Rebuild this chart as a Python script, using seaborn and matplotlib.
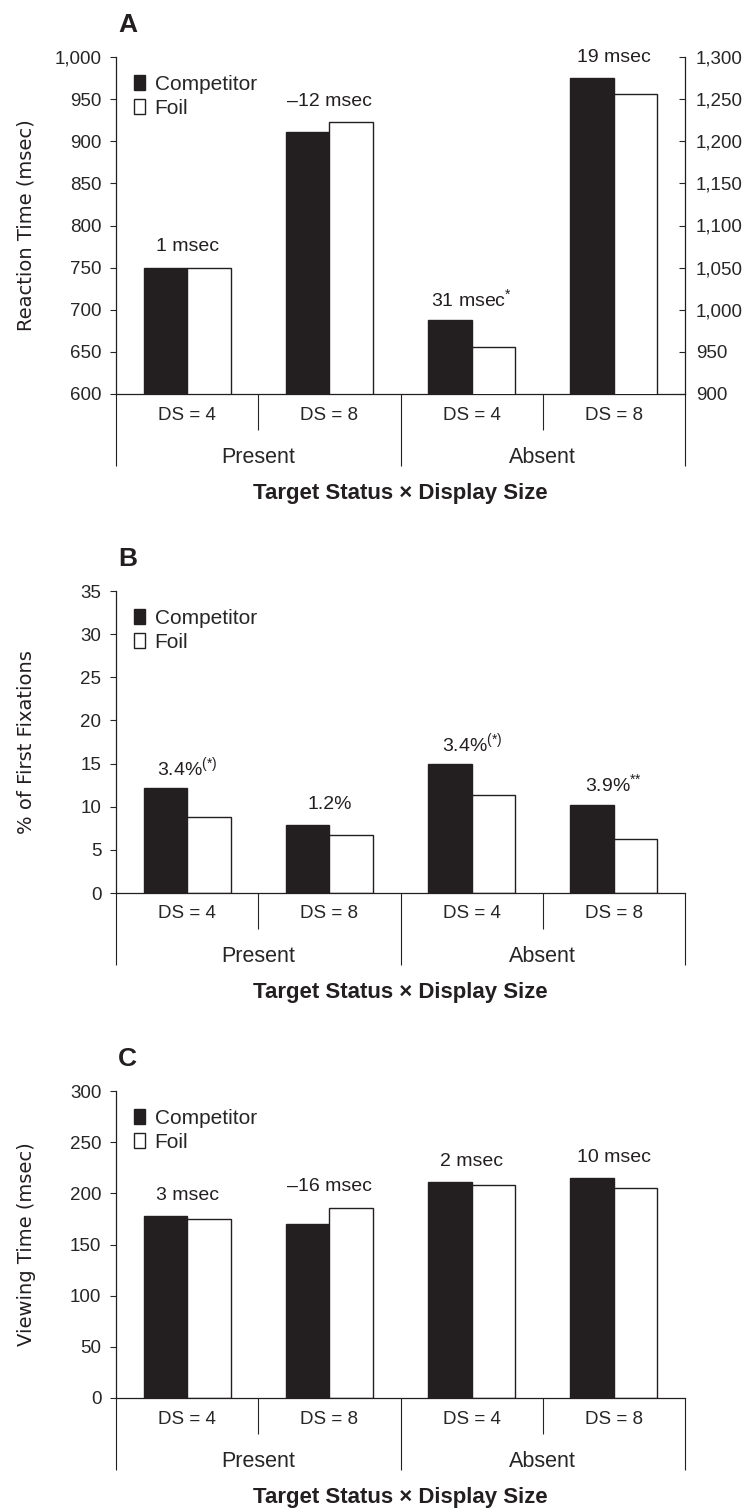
import pandas as pd
import seaborn as sns
import matplotlib.pyplot as plt
from matplotlib.ticker import FuncFormatter, MultipleLocator

# conditions along the x axis
status = ["Present", "Present", "Absent", "Absent"]
display_size = ["DS = 4", "DS = 8", "DS = 4", "DS = 8"]
groups = ["Present", "Absent"]
series = ["Competitor", "Foil"]

# A: reaction time (Present on left axis, Absent on right axis)
rt_competitor = [750, 911, 988, 1275]
rt_foil = [749, 923, 956, 1256]
rt_diff = ["1 msec", "\u201312 msec", "31 msec$^{*}$", "19 msec"]

# B: % of first fixations
ff_competitor = [12.2, 7.9, 14.9, 10.2]
ff_foil = [8.8, 6.7, 11.4, 6.3]
ff_diff = ["3.4%$^{(*)}$", "1.2%", "3.4%$^{(*)}$", "3.9%$^{{*}{*}}$"]

# C: viewing time
vt_competitor = [178, 170, 211, 215]
vt_foil = [175, 186, 208, 205]
vt_diff = ["3 msec", "\u201316 msec", "2 msec", "10 msec"]

INK = "#231f20"
W, H = 749, 1510
NARROW = ["Liberation Sans", "DejaVu Sans"]


def make_df(comp, foil):
    conds = [s + " " + d for s, d in zip(status, display_size)]
    rows = []
    for c, st, a, b in zip(conds, status, comp, foil):
        rows.append({"cond": c, "status": st, "series": "Competitor", "value": a})
        rows.append({"cond": c, "status": st, "series": "Foil", "value": b})
    return pd.DataFrame(rows), conds


def bars(df, conds, ax):
    sns.barplot(data=df, x="cond", y="value", hue="series", order=conds,
                hue_order=series, palette={"Competitor": INK, "Foil": "white"},
                edgecolor=INK, linewidth=1.0, width=0.61, saturation=1,
                errorbar=None, ax=ax)


def px_axes(top, bottom):
    return [116 / W, (H - bottom) / H, (685 - 116) / W, (bottom - top) / H]


def style_axes(ax, top, bottom, letter, ylabel):
    n = len(display_size)
    ax.set_xlim(-0.5, n - 0.5)
    ax.set_xticks(range(n), display_size)
    ax.set_xticks([0.5, 2.5], minor=True)
    ax.tick_params(axis="x", which="major", length=0, pad=9, labelsize=13.5)
    ax.tick_params(axis="x", which="minor", length=26, width=0.8, direction="out")
    for lab in ax.get_xticklabels():
        lab.set_family(NARROW)
    ax.tick_params(axis="y", length=4.5, width=0.8, direction="out", pad=6, labelsize=13.5)
    for lab in ax.get_yticklabels():
        lab.set_family(NARROW)
    for s in ["top", "right"]:
        ax.spines[s].set_visible(False)
    for s in ["left", "bottom"]:
        ax.spines[s].set_linewidth(0.9)
        ax.spines[s].set_color(INK)

    # group labels + long separators
    sec = ax.secondary_xaxis("bottom")
    sec.set_xticks([-0.5, 1.5, 3.5])
    sec.set_xticklabels(["", "", ""])
    sec.set_xticks([0.5, 2.5], groups, minor=True)
    sec.tick_params(which="major", length=52, width=0.8, direction="out", color=INK)
    sec.tick_params(which="minor", length=0, pad=38, labelsize=15.5)
    for lab in sec.get_xticklabels(minor=True):
        lab.set_family(NARROW)
    sec.spines["bottom"].set_visible(False)

    ax.set_ylabel(ylabel, fontsize=14, family="DejaVu Sans", color=INK)
    ax.yaxis.set_label_coords(-0.141, 0.5)
    ax.set_xlabel("Target Status \u00d7 Display Size", fontsize=16,
                  fontweight="bold", family=NARROW, color=INK)
    ax.xaxis.set_label_coords(0.5, -89 / (bottom - top))

    fig.text(118 / W, 1 - (top - 32) / H, letter, fontsize=19, fontweight="bold",
             family=NARROW, va="center", ha="left", color=INK)


def legend(src, dst):
    handles, labels = src.get_legend_handles_labels()
    if src.get_legend() is not None:
        src.get_legend().remove()
    dst.legend(handles, labels, loc="upper left", frameon=False,
               handlelength=0.55, handleheight=0.75, handletextpad=0.45,
               labelspacing=0.25, borderaxespad=0.45, prop={"family": NARROW, "size": 15})


def annotate(ax, i, y, text):
    ax.annotate(text, (i, y), xytext=(0, 15), textcoords="offset points",
                ha="center", va="center", fontsize=14, family=NARROW, color=INK)


sns.set_theme(style="ticks")
plt.rcParams["font.family"] = NARROW
plt.rcParams["mathtext.default"] = "regular"

fig = plt.figure(figsize=(W / 100, H / 100), dpi=100)
comma = FuncFormatter(lambda v, p: f"{v:,.0f}")

# ---- Panel A
df, conds = make_df(rt_competitor, rt_foil)
axA = fig.add_axes(px_axes(57, 394))
axA2 = axA.twinx()
bars(df[df.status == "Present"], conds, axA)
bars(df[df.status == "Absent"], conds, axA2)
axA.set_ylim(600, 1000)
axA2.set_ylim(900, 1300)
axA.yaxis.set_major_locator(MultipleLocator(50))
axA2.yaxis.set_major_locator(MultipleLocator(50))
axA.yaxis.set_major_formatter(comma)
axA2.yaxis.set_major_formatter(comma)
axA2.set_ylabel("")
axA2.tick_params(axis="y", direction="in", length=4.5, width=0.8, pad=8, labelsize=13.5)
for lab in axA2.get_yticklabels():
    lab.set_family(NARROW)
for s in ["top", "left", "bottom"]:
    axA2.spines[s].set_visible(False)
axA2.spines["right"].set_linewidth(0.9)
axA2.spines["right"].set_color(INK)
if axA2.get_legend() is not None:
    axA2.get_legend().remove()
style_axes(axA, 57, 394, "A", "Reaction Time (msec)")
legend(axA, axA2)
for i, (a, b, t, st) in enumerate(zip(rt_competitor, rt_foil, rt_diff, status)):
    annotate(axA if st == "Present" else axA2, i, max(a, b), t)

# ---- Panel B
df, conds = make_df(ff_competitor, ff_foil)
axB = fig.add_axes(px_axes(591, 893))
bars(df, conds, axB)
axB.set_ylim(0, 35)
axB.yaxis.set_major_locator(MultipleLocator(5))
style_axes(axB, 591, 893, "B", "% of First Fixations")
legend(axB, axB)
for i, (a, b, t) in enumerate(zip(ff_competitor, ff_foil, ff_diff)):
    annotate(axB, i, max(a, b), t)

# ---- Panel C
df, conds = make_df(vt_competitor, vt_foil)
axC = fig.add_axes(px_axes(1091, 1398))
bars(df, conds, axC)
axC.set_ylim(0, 300)
axC.yaxis.set_major_locator(MultipleLocator(50))
style_axes(axC, 1091, 1398, "C", "Viewing Time (msec)")
legend(axC, axC)
for i, (a, b, t) in enumerate(zip(vt_competitor, vt_foil, vt_diff)):
    annotate(axC, i, max(a, b), t)

fig.savefig("out.png", dpi=100)
